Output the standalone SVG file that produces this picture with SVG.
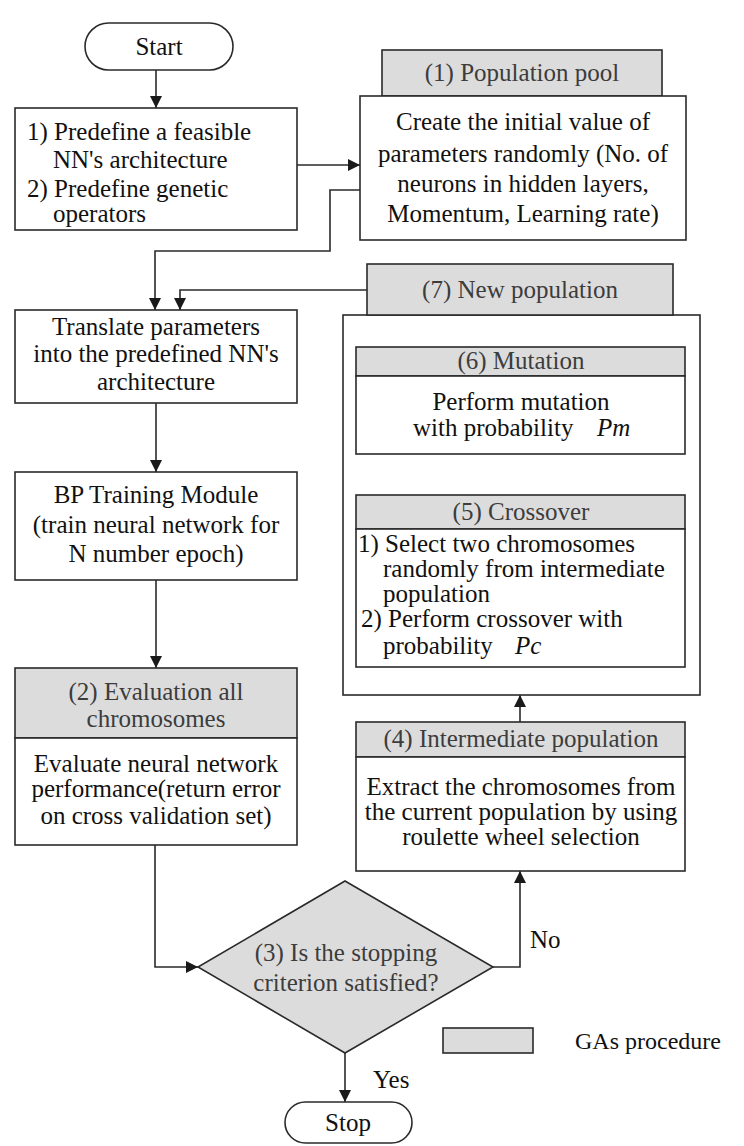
<svg xmlns="http://www.w3.org/2000/svg" width="744" height="1146" viewBox="0 0 744 1146">
  <style>
    .box { fill: #ffffff; stroke: #2a2a2a; stroke-width: 1.6; }
    .hdr { fill: #dcdcdc; stroke: #2a2a2a; stroke-width: 1.6; }
    .t { font-family: "Liberation Serif", "Times New Roman", Tinos, "DejaVu Serif", serif; font-size: 25px; fill: #111111; }
    .c { text-anchor: middle; }
    .h { fill: #3c3c3c; }
    .i { font-style: italic; }
    .wire { fill: none; stroke: #2a2a2a; stroke-width: 1.6; }
  </style>
  <defs>
    <marker id="arrow" markerWidth="12" markerHeight="12" refX="12" refY="6" orient="auto" markerUnits="userSpaceOnUse">
      <path d="M0,0 L12,6 L0,12 Z" fill="#1a1a1a"/>
    </marker>
  </defs>
  <rect width="744" height="1146" fill="#ffffff"/>

  <!-- connectors -->
  <g id="connectors">
    <line class="wire" x1="156" y1="70" x2="156" y2="108" marker-end="url(#arrow)"/>
    <line class="wire" x1="297" y1="165" x2="360" y2="165" marker-end="url(#arrow)"/>
    <polyline class="wire" points="360,190 330,190 330,251 155,251 155,310" marker-end="url(#arrow)"/>
    <polyline class="wire" points="367,290 180,290 180,310" marker-end="url(#arrow)"/>
    <line class="wire" x1="156" y1="403" x2="156" y2="472" marker-end="url(#arrow)"/>
    <line class="wire" x1="156" y1="580" x2="156" y2="668" marker-end="url(#arrow)"/>
    <polyline class="wire" points="155,845 155,967 198,967" marker-end="url(#arrow)"/>
    <polyline class="wire" points="493,967 520,967 520,871" marker-end="url(#arrow)"/>
    <line class="wire" x1="520" y1="722" x2="520" y2="695" marker-end="url(#arrow)"/>
    <line class="wire" x1="520" y1="495" x2="520" y2="454" marker-end="url(#arrow)"/>
    <line class="wire" x1="520" y1="347" x2="520" y2="315" marker-end="url(#arrow)"/>
    <line class="wire" x1="345" y1="1053" x2="345" y2="1102" marker-end="url(#arrow)"/>
    <text class="t" x="530" y="948">No</text>
    <text class="t" x="373" y="1088">Yes</text>
  </g>

  <!-- start terminal -->
  <g id="start">
    <rect class="box" x="85" y="23" width="148" height="47" rx="23.5"/>
    <text class="t c" x="159" y="55">Start</text>
  </g>

  <!-- preparation -->
  <g id="predefine">
    <rect class="box" x="15" y="108" width="282" height="122"/>
    <text class="t" x="27" y="140">1) Predefine a feasible</text>
    <text class="t" x="53" y="168">NN's architecture</text>
    <text class="t" x="27" y="197">2) Predefine genetic</text>
    <text class="t" x="53" y="222">operators</text>
  </g>

  <!-- (1) population pool -->
  <g id="population-pool">
    <rect class="hdr" x="382" y="50" width="280" height="46"/>
    <text class="t c h" x="522" y="81">(1) Population pool</text>
    <rect class="box" x="360" y="96" width="326" height="144"/>
    <text class="t c" x="523" y="130">Create the initial value of</text>
    <text class="t c" x="523" y="162">parameters randomly (No. of</text>
    <text class="t c" x="523" y="192">neurons in hidden layers,</text>
    <text class="t c" x="523" y="222">Momentum, Learning rate)</text>
  </g>

  <!-- translate -->
  <g id="translate">
    <rect class="box" x="15" y="310" width="282" height="93"/>
    <text class="t c" x="156" y="335">Translate parameters</text>
    <text class="t c" x="156" y="362">into the predefined NN's</text>
    <text class="t c" x="156" y="390">architecture</text>
  </g>

  <!-- BP training -->
  <g id="bp-training">
    <rect class="box" x="15" y="472" width="282" height="108"/>
    <text class="t c" x="156" y="503">BP Training Module</text>
    <text class="t c" x="156" y="533">(train neural network for</text>
    <text class="t c" x="156" y="562">N number epoch)</text>
  </g>

  <!-- (2) evaluation -->
  <g id="evaluation">
    <rect class="hdr" x="15" y="668" width="282" height="70"/>
    <text class="t c h" x="156" y="700">(2) Evaluation all</text>
    <text class="t c h" x="156" y="727">chromosomes</text>
    <rect class="box" x="15" y="738" width="282" height="107"/>
    <text class="t c" x="156" y="772">Evaluate neural network</text>
    <text class="t c" x="156" y="797">performance(return error</text>
    <text class="t c" x="156" y="824">on cross validation set)</text>
  </g>

  <!-- (3) stopping decision -->
  <g id="decision">
    <polygon class="hdr" points="345,881 493,967 345,1053 198,967"/>
    <text class="t c h" x="346" y="961">(3) Is the stopping</text>
    <text class="t c h" x="346" y="991">criterion satisfied?</text>
  </g>

  <!-- stop terminal -->
  <g id="stop">
    <rect class="box" x="285" y="1102" width="127" height="41" rx="20.5"/>
    <text class="t c" x="348" y="1131">Stop</text>
  </g>

  <!-- (4) intermediate population -->
  <g id="intermediate">
    <rect class="hdr" x="356" y="722" width="329" height="35"/>
    <text class="t c h" x="521" y="747">(4) Intermediate population</text>
    <rect class="box" x="356" y="757" width="329" height="114"/>
    <text class="t c" x="521" y="795">Extract the chromosomes from</text>
    <text class="t c" x="521" y="820">the current population by using</text>
    <text class="t c" x="521" y="845">roulette wheel selection</text>
  </g>

  <!-- GA operators container -->
  <g id="ga-operators">
    <rect class="box" x="343" y="315" width="357" height="380"/>
  </g>

  <!-- (5) crossover -->
  <g id="crossover">
    <rect class="hdr" x="356" y="495" width="329" height="34"/>
    <text class="t c h" x="521" y="520">(5) Crossover</text>
    <rect class="box" x="356" y="529" width="329" height="138"/>
    <text class="t" x="358" y="552">1) Select two chromosomes</text>
    <text class="t" x="383" y="577">randomly from intermediate</text>
    <text class="t" x="383" y="602">population</text>
    <text class="t" x="361" y="627">2) Perform crossover with</text>
    <text class="t" x="383" y="654">probability</text>
    <text class="t i" x="515" y="654">Pc</text>
  </g>

  <!-- (6) mutation -->
  <g id="mutation">
    <rect class="hdr" x="356" y="347" width="329" height="29"/>
    <text class="t c h" x="521" y="369">(6) Mutation</text>
    <rect class="box" x="356" y="376" width="329" height="78"/>
    <text class="t c" x="521" y="410">Perform mutation</text>
    <text class="t" x="413" y="436">with probability</text>
    <text class="t i" x="597" y="436">Pm</text>
  </g>

  <!-- (7) new population -->
  <g id="new-population">
    <rect class="hdr" x="367" y="264" width="306" height="51"/>
    <text class="t c h" x="520" y="298">(7) New population</text>
  </g>

  <!-- legend -->
  <g id="legend">
    <rect class="hdr" x="443" y="1028" width="90" height="25"/>
    <text class="t" x="575" y="1049" style="font-size:24px">GAs procedure</text>
  </g>
</svg>
